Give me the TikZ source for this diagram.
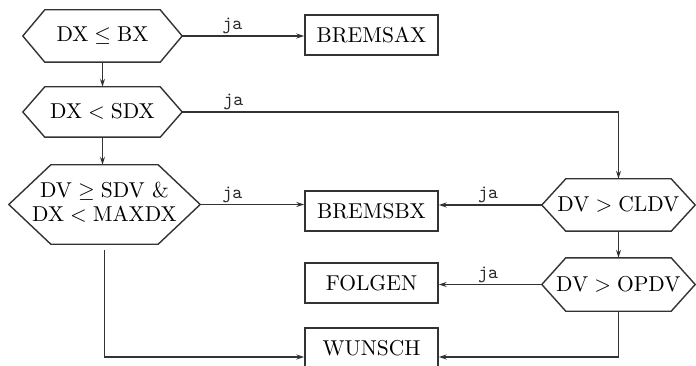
\documentclass[tikz,border=0pt]{standalone}
\usepackage{graphicx}
\usetikzlibrary{arrows.meta,calc}
\newcommand{\bigt}[1]{\scalebox{2.15}{\fontsize{10}{11.2}\selectfont #1}}
\newcommand{\tja}{\scalebox{1.9}{\fontsize{10}{12}\selectfont\ttfamily ja}}
\begin{document}
\begin{tikzpicture}[x=1pt,y=-1pt,
  ln/.style={draw=black!80, line width=1.4pt},
  arr/.style={ln, -{Stealth[length=8pt,width=5pt]}},
  box/.style={ln, rectangle, minimum width=133pt, minimum height=40pt, inner sep=0pt},
  hexn/.style={rectangle, inner sep=0pt, align=center},
  lbl/.style={above=1pt, inner sep=0pt, text=black!85}]
\useasboundingbox (0,0) rectangle (696,366);
% boxes
\node[box] (ax) at (371.5,35) {\bigt{BREMSAX}};
\node[box] (bx) at (371.5,211) {\bigt{BREMSBX}};
\node[box] (fo) at (371.5,283) {\bigt{FOLGEN}};
\node[box] (wu) at (371.5,348) {\bigt{WUNSCH}};
% hexagon nodes
\node[hexn, minimum width=159pt, minimum height=52pt] (h1) at (102.5,36) {\bigt{$\mathrm{DX}\leq\mathrm{BX}$}};
\node[hexn, minimum width=159pt, minimum height=50pt] (h2) at (102.5,112) {\bigt{$\mathrm{DX}<\mathrm{SDX}$}};
\node[hexn, minimum width=191pt, minimum height=79pt] (h3) at (104.5,204.5) {\bigt{\begin{tabular}{@{}c@{}}$\mathrm{DV}\geq\mathrm{SDV}\ \&$\\$\mathrm{DX}<\mathrm{MAXDX}$\end{tabular}}};
\node[hexn, minimum width=153pt, minimum height=52pt] (h4) at (618.5,205) {\bigt{$\mathrm{DV}>\mathrm{CLDV}$}};
\node[hexn, minimum width=153pt, minimum height=53pt] (h5) at (618.5,284.5) {\bigt{$\mathrm{DV}>\mathrm{OPDV}$}};
\foreach \n/\d in {h1/22,h2/22,h3/42,h4/24,h5/24}
  \draw[ln] (\n.west) -- ($(\n.north west)+(\d,0)$) -- ($(\n.north east)+(-\d,0)$)
    -- (\n.east) -- ($(\n.south east)+(-\d,0)$) -- ($(\n.south west)+(\d,0)$) -- cycle;
\coordinate (wuin) at ($(wu.center)+(0,9)$);
% connectors
\draw[arr] (h1.east) -- node[lbl, pos=0.41] {\tja} (h1.east -| ax.west);
\draw[arr] (h1.south) -- (h2.north);
\draw[arr] (h2.east) -- node[lbl, pos=0.117] {\tja} (h2.east -| h4.north) -- (h4.north);
\draw[arr] (h2.south) -- (h2.south |- h3.north);
\draw[arr] (h3.east) -- node[lbl, pos=0.31] {\tja} (h3.east -| bx.west);
\draw[arr] (h4.west) -- node[lbl, pos=0.52] {\tja} (h4.west -| bx.east);
\draw[arr] (h4.south) -- (h5.north);
\draw[arr] (h5.west) -- node[lbl, pos=0.52] {\tja} (h5.west -| fo.east);
\draw[arr, shorten <=6pt] (h3.south) |- (wuin -| wu.west);
\draw[arr] (h5.south) |- (wuin -| wu.east);
\end{tikzpicture}
\end{document}
